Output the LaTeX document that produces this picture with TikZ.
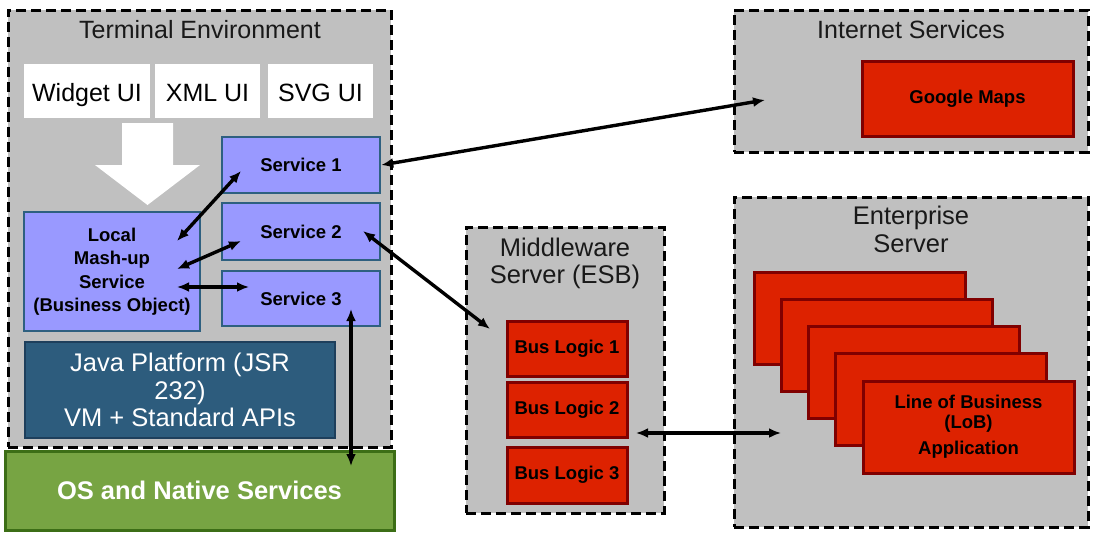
\documentclass[tikz,border=0pt]{standalone}
\usepackage{fontspec}
\setmainfont{Liberation Sans}
\usetikzlibrary{arrows.meta}
\definecolor{regiongray}{HTML}{C0C0C0}
\definecolor{svcfill}{HTML}{9999FF}
\definecolor{svcline}{HTML}{2E6080}
\definecolor{javafill}{HTML}{2D5C7D}
\definecolor{javaline}{HTML}{1E3F5C}
\definecolor{osfill}{HTML}{77A443}
\definecolor{osline}{HTML}{3C6E16}
\definecolor{redfill}{HTML}{DD2200}
\definecolor{redline}{HTML}{800000}
\newcommand{\fs}[1]{\fontsize{#1}{#1}\selectfont}
\tikzset{
  region/.style={draw=black, fill=regiongray, line width=3pt, dash pattern=on 10pt off 5pt, inner sep=0pt},
  regiontitle/.style={font=\fs{25}, text=black!90, inner sep=0pt, anchor=base},
  uibox/.style={fill=white, inner sep=0pt, font=\fs{25}, text height=21pt, text depth=0pt},
  svc/.style={draw=svcline, fill=svcfill, line width=2.5pt, inner sep=0pt, font=\bfseries\fs{18.5}},
  redbox/.style={draw=redline, fill=redfill, line width=3pt, inner sep=0pt, font=\bfseries\fs{18.5}},
  conn/.style={line width=3.4pt, {Latex[length=12pt,width=10pt]}-{Latex[length=12pt,width=10pt]}},
}
\begin{document}
\begin{tikzpicture}[x=1pt, y=-1pt]
\useasboundingbox (0,0) rectangle (1099,536);
% Terminal environment
\node[region, minimum width=383pt, minimum height=437pt] (term) at (199.5,228.5) {};
\node[regiontitle] (termtitle) at (200,38.5) {Terminal Environment};
\node[uibox, minimum width=126pt, minimum height=54pt] (widget) at (87,91) {Widget UI};
\node[uibox, minimum width=105pt, minimum height=54pt] (xml) at (207.5,91) {XML UI};
\node[uibox, minimum width=105pt, minimum height=54pt] (svg) at (320.5,91) {SVG UI};
\fill[white] (122,123) -- (173,123) -- (173,165) -- (200,165) -- (147.5,205) -- (95,165) -- (122,165) -- cycle;
\node[svc, minimum width=158pt, minimum height=56pt] (s1) at (301,165) {Service 1};
\node[svc, minimum width=158pt, minimum height=57pt] (s2) at (301,231.5) {Service 2};
\node[svc, minimum width=158pt, minimum height=55pt] (s3) at (301,298.5) {Service 3};
\node[svc, minimum width=176pt, minimum height=119pt, align=center, font=\bfseries\fontsize{18.5}{23.5}\selectfont] (mash) at (112,271.5) {Local\\Mash-up\\Service\\(Business Object)};
\node[draw=javaline, line width=1.2pt, fill=javafill, text=white, minimum width=310pt, minimum height=96pt, inner sep=0pt, align=center, font=\fontsize{25.5}{27.5}\selectfont] (java) at (180,390) {Java Platform (JSR\\232)\\VM + Standard APIs};
\node[draw=osline, fill=osfill, line width=3pt, text=white, minimum width=389pt, minimum height=79pt, inner sep=0pt, font=\bfseries\fs{25.5}] (os) at (199.5,490.5) {OS and Native Services};
% Internet services
\node[region, minimum width=354pt, minimum height=142pt] (inet) at (911,81) {};
\node[regiontitle] (inettitle) at (911,38.5) {Internet Services};
\node[redbox, minimum width=211pt, minimum height=75pt] (gmaps) at (967.5,98.5) {Google Maps};
% Middleware
\node[region, minimum width=198pt, minimum height=286pt] (mid) at (565,370) {};
\node[regiontitle, align=center, font=\fontsize{25.5}{27}\selectfont] (midtitle) at (565,283) {Middleware\\Server (ESB)};
\node[redbox, minimum width=120pt, minimum height=55pt] (bl1) at (567,348.5) {Bus Logic 1};
\node[redbox, minimum width=120pt, minimum height=55pt] (bl2) at (567,409.5) {Bus Logic 2};
\node[redbox, minimum width=120pt, minimum height=56pt] (bl3) at (567,475) {Bus Logic 3};
% Enterprise
\node[region, minimum width=354pt, minimum height=330pt] (ent) at (911,362) {};
\node[regiontitle, align=center, font=\fontsize{25.5}{28}\selectfont] (enttitle) at (911,252) {Enterprise\\Server};
\node[redbox, minimum width=211pt, minimum height=92pt] (lob1) at (859.5,318) {};
\node[redbox, minimum width=211pt, minimum height=92pt] (lob2) at (886.5,345) {};
\node[redbox, minimum width=211pt, minimum height=92pt] (lob3) at (914,372.5) {};
\node[redbox, minimum width=211pt, minimum height=92pt] (lob4) at (940.5,399.5) {};
\node[redbox, minimum width=211pt, minimum height=92pt, align=center, font=\bfseries\fontsize{18.5}{20}\selectfont] (lob5) at (968.5,427) {Line of Business\\(LoB)\\[6pt]Application};
% connector end points
\coordinate (inetpt) at (765,100);
\coordinate (mashA) at (177,241);
\coordinate (s1A) at (241,171);
\coordinate (mashB) at (177,269);
\coordinate (s2A) at (241,241);
\coordinate (mashC) at (177,287);
\coordinate (s3A) at (249,287);
\coordinate (s3B) at (351,309);
\coordinate (osA) at (351,466);
\coordinate (s2B) at (363,231);
\coordinate (bl1A) at (490,329);
\coordinate (bl2A) at (636,433);
\coordinate (entA) at (781,433);
% connectors
\draw[conn] (s1.east) -- (inetpt);
\draw[conn] (mashA) -- (s1A);
\draw[conn] (mashB) -- (s2A);
\draw[conn] (mashC) -- (s3A);
\draw[conn] (s3B) -- (osA);
\draw[conn] (s2B) -- (bl1A);
\draw[conn] (bl2A) -- (entA);
\end{tikzpicture}
\end{document}
